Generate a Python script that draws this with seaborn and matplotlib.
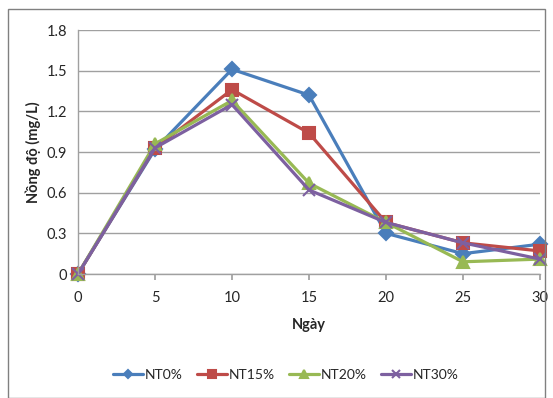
import matplotlib
matplotlib.use("Agg")
import matplotlib.pyplot as plt
import seaborn as sns
import pandas as pd
from matplotlib.patches import Rectangle

days = [0, 5, 10, 15, 20, 25, 30]
nt0 = [0.0, 0.92, 1.51, 1.32, 0.30, 0.15, 0.22]
nt15 = [0.0, 0.93, 1.36, 1.04, 0.38, 0.23, 0.17]
nt20 = [0.0, 0.96, 1.28, 0.67, 0.38, 0.09, 0.11]
nt30 = [0.0, 0.93, 1.25, 0.62, 0.38, 0.23, 0.11]
series_names = ["NT0%", "NT15%", "NT20%", "NT30%"]
yticks = [0, 0.3, 0.6, 0.9, 1.2, 1.5, 1.8]
ytick_labels = ["0", "0.3", "0.6", "0.9", "1.2", "1.5", "1.8"]

rows = []
for name, vals in zip(series_names, [nt0, nt15, nt20, nt30]):
    for d, v in zip(days, vals):
        rows.append({"Ngày": d, "value": v, "series": name})
df = pd.DataFrame(rows)

sns.set_theme(style="white")
plt.rcParams['font.family'] = ['Lato', 'DejaVu Sans']

fig = plt.figure(figsize=(5.53, 3.98), dpi=100)
ax = fig.add_axes([78/553, 1 - 274/398, (540-78)/553, (274-30)/398])

colors = ["#4A7EBB", "#BE4B48", "#98B954", "#7D60A0"]
markers = ["D", "s", "^", "x"]
msizes = [7, 9, 9, 9]
for name, c, m, ms in zip(series_names, colors, markers, msizes):
    sub = df[df["series"] == name]
    sns.lineplot(data=sub, x="Ngày", y="value", color=c, marker=m, label=name,
                 linewidth=2.3, markersize=ms, markeredgewidth=1.5,
                 markeredgecolor=c, markerfacecolor=c, ax=ax, clip_on=False)

ax.set_xlim(0, 30)
ax.set_ylim(0, 1.8)
ax.set_xticks(days)
ax.set_xticklabels([str(d) for d in days], fontsize=10.5)
ax.set_yticks(yticks)
ax.set_yticklabels(ytick_labels, fontsize=10.5)
ax.yaxis.grid(True, color="#A0A0A0", linewidth=1)
ax.xaxis.grid(False)
for s in ["top", "right"]:
    ax.spines[s].set_visible(False)
for s in ["left", "bottom"]:
    ax.spines[s].set_color("#A0A0A0")
    ax.spines[s].set_linewidth(1)
ax.tick_params(axis="x", which="both", length=4.5, color="#A0A0A0", direction="out", bottom=True, pad=8)
ax.tick_params(axis="y", length=0, pad=8)

ax.set_xlabel("Ngày", fontsize=10.5, fontweight="bold")
ax.xaxis.set_label_coords(0.5, (274-325)/244)
ax.xaxis.label.set_va("center")
ax.set_ylabel("Nồng độ (mg/L)", fontsize=10.5, fontweight="bold")
ax.yaxis.set_label_coords((33-78)/462, 0.5)
ax.yaxis.label.set_va("center")

handles, labels = ax.get_legend_handles_labels()
ax.legend(handles, labels, loc="center", bbox_to_anchor=((286-78)/462, (274-375)/244),
          ncol=4, frameon=False, fontsize=10, handlelength=2.16, columnspacing=1.0,
          handletextpad=0.15, markerscale=0.6)

fig.patches.append(Rectangle((8/553, 0), (545-8)/553, (398-9)/398,
                             transform=fig.transFigure, fill=False,
                             edgecolor="#808080", linewidth=1))

fig.savefig("out.png", dpi=100)
